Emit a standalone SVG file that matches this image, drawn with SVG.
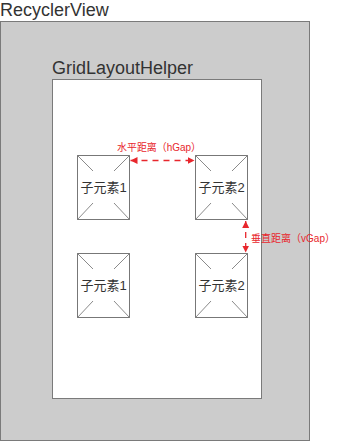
<svg xmlns="http://www.w3.org/2000/svg" width="342" height="442" viewBox="0 0 342 442">
<defs>
<style>
.frame{fill:#cccccc;stroke:#7a7a7a;stroke-width:1}
.inner{fill:#ffffff;stroke:#7a7a7a;stroke-width:1}
.title{font-family:"Liberation Sans","Noto Sans CJK SC",sans-serif;font-size:18px;fill:#333333}
.box{fill:#ffffff;stroke:#777777;stroke-width:1}
.x{stroke:#8a8a8a;stroke-width:1;fill:none}
.lbl{font-family:"Liberation Sans","Noto Sans CJK SC",sans-serif;font-size:13px;fill:#333333;text-anchor:middle}
.gap{stroke:#e8262c;stroke-width:1.3;stroke-dasharray:6,5;fill:none}
.red{font-family:"Liberation Sans","Noto Sans CJK SC",sans-serif;font-size:10.5px;fill:#e8262c}
</style>
<marker id="ah" viewBox="0 0 10 10" refX="10" refY="5" markerWidth="7" markerHeight="8" markerUnits="userSpaceOnUse" orient="auto-start-reverse">
<path d="M0,0 L10,5 L0,10 z" fill="#e8262c"/>
</marker>
</defs>
<g id="recyclerview">
<rect class="frame" x="0.5" y="21.5" width="309" height="419"/>
<text class="title" x="0" y="16">RecyclerView</text>
</g>
<g id="gridlayouthelper">
<rect class="inner" x="52.5" y="79.5" width="209" height="319"/>
<text class="title" x="52" y="74">GridLayoutHelper</text>
</g>
<g id="child-1-1">
<rect class="box" x="77.5" y="155.5" width="52" height="64"/>
<path class="x" d="M77.5,155.5 L93,171 M129.5,155.5 L114,171 M77.5,219.5 L93,203 M129.5,219.5 L114,203"/>
<text class="lbl" x="103.5" y="192">子元素1</text>
</g>
<g id="child-1-2">
<rect class="box" x="195.5" y="155.5" width="52" height="64"/>
<path class="x" d="M195.5,155.5 L211,171 M247.5,155.5 L232,171 M195.5,219.5 L211,203 M247.5,219.5 L232,203"/>
<text class="lbl" x="221.5" y="192">子元素2</text>
</g>
<g id="child-2-1">
<rect class="box" x="77.5" y="253.5" width="52" height="64"/>
<path class="x" d="M77.5,253.5 L93,269 M129.5,253.5 L114,269 M77.5,317.5 L93,301 M129.5,317.5 L114,301"/>
<text class="lbl" x="103.5" y="290">子元素1</text>
</g>
<g id="child-2-2">
<rect class="box" x="195.5" y="253.5" width="52" height="64"/>
<path class="x" d="M195.5,253.5 L211,269 M247.5,253.5 L232,269 M195.5,317.5 L211,301 M247.5,317.5 L232,301"/>
<text class="lbl" x="221.5" y="290">子元素2</text>
</g>
<g id="connectors">
<line class="gap" x1="130.5" y1="160.5" x2="194.5" y2="160.5" marker-start="url(#ah)" marker-end="url(#ah)"/>
<line class="gap" x1="245.7" y1="221" x2="245.7" y2="252.5" marker-start="url(#ah)" marker-end="url(#ah)"/>
<text class="red" x="117" y="150.5" textLength="84" lengthAdjust="spacingAndGlyphs">水平距离（hGap）</text>
<text class="red" x="251" y="241.5" textLength="84" lengthAdjust="spacingAndGlyphs">垂直距离（vGap）</text>
</g>
</svg>
